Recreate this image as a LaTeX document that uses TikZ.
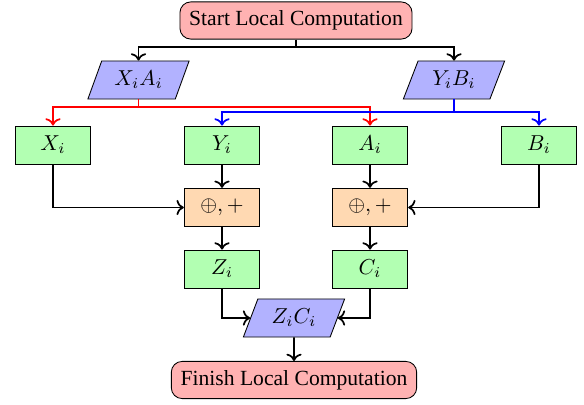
\documentclass[tikz,border=0pt]{standalone}
\usepackage{fontspec}
\setmainfont{Liberation Serif}
\usetikzlibrary{shapes.geometric,arrows.meta}
\begin{document}
\begin{tikzpicture}[x=0.463pt,y=-0.463pt,
  termbox/.style={draw,fill=red!30,rounded corners=5pt,minimum height=17.2pt,inner xsep=4.3pt},
  varbox/.style={draw,fill=green!30,minimum width=35pt,minimum height=17.6pt},
  opbox/.style={draw,fill=orange!30,minimum width=35pt,minimum height=17.8pt},
  iobox/.style={draw,fill=blue!30,trapezium,trapezium left angle=70,trapezium right angle=110,trapezium stretches=true,minimum width=47pt,minimum height=17.6pt},
  conn/.style={thick,->}]
\useasboundingbox (0,0) rectangle (584,405);
\node[termbox] (start) at (296,20.5) {Start Local Computation};
\node[iobox] (xa) at (138.5,80) {$X_iA_i$};
\node[iobox] (yb) at (454,80) {$Y_iB_i$};
\node[varbox] (xi) at (53,145) {$X_i$};
\node[varbox] (yi) at (222,145) {$Y_i$};
\node[varbox] (ai) at (370,145) {$A_i$};
\node[varbox] (bi) at (539,145) {$B_i$};
\node[opbox] (p1) at (222,207.5) {$\oplus,+$};
\node[opbox] (p2) at (370,207.5) {$\oplus,+$};
\node[varbox] (zi) at (222,269) {$Z_i$};
\node[varbox] (ci) at (370,269) {$C_i$};
\node[iobox] (zc) at (294,318) {$Z_iC_i$};
\node[termbox] (fin) at (294,380) {Finish Local Computation};
\coordinate (f0) at (start.south |- 0,47);
\coordinate (fr) at (xa.south |- 0,107);
\coordinate (fb) at (yb.south |- 0,112);
\draw[conn] (start.south) -- (f0) -| (xa.north);
\draw[conn] (f0) -| (yb.north);
\draw[conn,red] (xa.south) -- (fr) -| (xi.north);
\draw[conn,red] (fr) -| (ai.north);
\draw[conn,blue] (yb.south) -- (fb) -| (yi.north);
\draw[conn,blue] (fb) -| (bi.north);
\draw[conn] (xi.south) |- (p1.west);
\draw[conn] (bi.south) |- (p2.east);
\draw[conn] (yi) -- (p1);
\draw[conn] (ai) -- (p2);
\draw[conn] (p1) -- (zi);
\draw[conn] (p2) -- (ci);
\draw[conn] (zi.south) |- (zc.west);
\draw[conn] (ci.south) |- (zc.east);
\draw[conn] (zc.south) -- (fin.north);
\end{tikzpicture}
\end{document}
